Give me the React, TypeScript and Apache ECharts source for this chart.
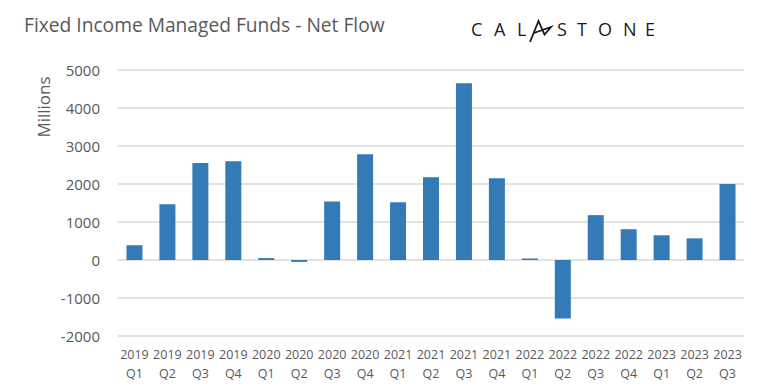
import React, { useEffect, useRef } from "react";
import * as echarts from "echarts";

const years = ["2019", "2019", "2019", "2019", "2020", "2020", "2020", "2020", "2021", "2021", "2021", "2021", "2022", "2022", "2022", "2022", "2023", "2023", "2023"];
const quarters = ["Q1", "Q2", "Q3", "Q4", "Q1", "Q2", "Q3", "Q4", "Q1", "Q2", "Q3", "Q4", "Q1", "Q2", "Q3", "Q4", "Q1", "Q2", "Q3"];
const netFlow = [390, 1470, 2550, 2600, 50, -50, 1540, 2780, 1520, 2180, 4650, 2150, 40, -1540, 1180, 810, 650, 570, 2000];
const yTicks = { min: -2000, max: 5000, interval: 1000 };
const titleText = "Fixed Income Managed Funds - Net Flow";
const yAxisTitle = "Millions";

const FONT = "'Open Sans', 'Liberation Sans', sans-serif";
const GREY = "#595959";

export default function App() {
  const ref = useRef<HTMLDivElement>(null);
  useEffect(() => {
    if (!ref.current) return;
    const chart = echarts.init(ref.current, undefined, { renderer: "svg" });
    const categories = years.map((y, i) => `${y}\n${quarters[i]}`);
    const logoLetters: [string, number][] = [
      ["C", 471], ["A", 494], ["L", 517], ["S", 557], ["T", 577], ["O", 598], ["N", 623], ["E", 645],
    ];
    chart.setOption({
      animation: false,
      backgroundColor: "#ffffff",
      grid: { left: 118, right: 14, top: 70, bottom: 52, containLabel: false },
      xAxis: {
        type: "category",
        data: categories,
        axisLine: { show: false },
        axisTick: { show: false },
        axisLabel: {
          color: GREY,
          fontFamily: FONT,
          fontSize: 12.5,
          lineHeight: 19,
          margin: 9,
          interval: 0,
        },
      },
      yAxis: {
        type: "value",
        min: yTicks.min,
        max: yTicks.max,
        interval: yTicks.interval,
        axisLine: { show: false },
        axisTick: { show: false },
        axisLabel: {
          color: GREY,
          fontFamily: FONT,
          fontSize: 15,
          margin: 18,
          formatter: (v: number) => String(v),
        },
        splitLine: { lineStyle: { color: "#d9d9d9", width: 1.5 } },
      },
      series: [
        {
          type: "bar",
          data: netFlow,
          barWidth: 16,
          itemStyle: { color: "#337ab7" },
        },
      ],
      graphic: [
        {
          type: "text",
          left: 24,
          top: 15,
          style: { text: titleText, fill: GREY, font: `19.2px ${FONT}` },
        },
        {
          type: "text",
          x: 43,
          y: 107,
          rotation: Math.PI / 2,
          style: {
            text: yAxisTitle,
            fill: GREY,
            font: `17px ${FONT}`,
            align: "center",
            verticalAlign: "middle",
          },
        },
        ...logoLetters.map(([ch, x]) => ({
          type: "text",
          x,
          y: 28.5,
          style: {
            text: ch,
            fill: "#1a1a1a",
            font: `18px ${FONT}`,
            verticalAlign: "middle",
          },
        })),
        {
          type: "polyline",
          shape: {
            points: [
              [530, 42],
              [538.5, 21],
              [544.5, 34.5],
              [551, 27],
              [534, 33],
            ],
          },
          style: { stroke: "#1a1a1a", lineWidth: 1.8, fill: "none", lineJoin: "miter" },
        },
      ],
    });
    return () => chart.dispose();
  }, []);
  return <div ref={ref} style={{ width: 758, height: 388, position: "absolute", left: 0, top: 0 }} />;
}
